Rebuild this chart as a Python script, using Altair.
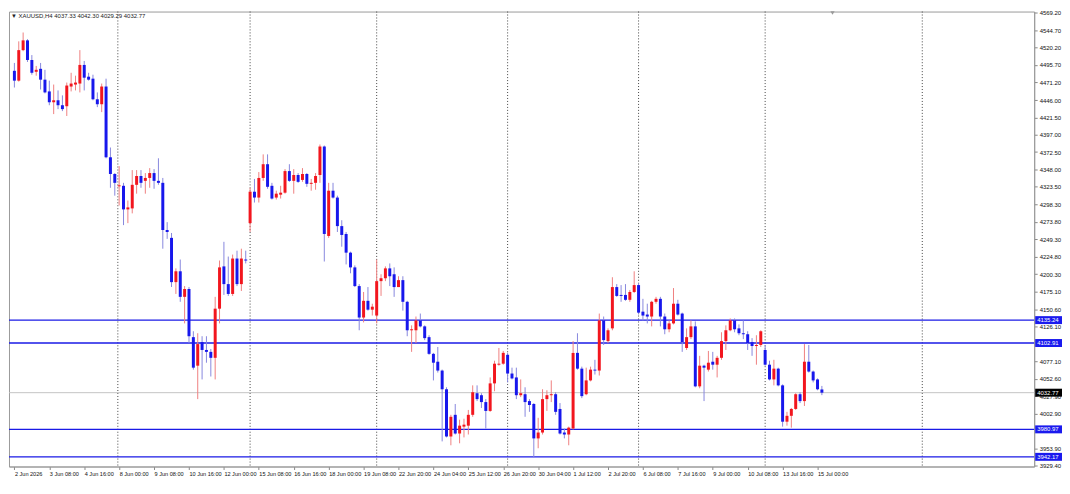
import json
import altair as alt
import pandas as pd

# ---------------- data (XAUUSD, H4) ----------------
opens = [4487.3, 4473.4, 4516.5, 4530.3, 4502.6, 4485.9, 4490.1, 4474.8, 4458.2, 4442.9,
         4445.7, 4438.7, 4437.3, 4465.1, 4467.9, 4469.3, 4495.6, 4479.0, 4476.2, 4447.1,
         4440.1, 4465.1, 4365.2, 4341.6, 4324.2, 4324.9, 4291.6, 4293.0, 4326.3, 4338.8,
         4331.9, 4336.0, 4342.9, 4331.9, 4329.1, 4262.5, 4251.4, 4188.9, 4204.2, 4168.1,
         4179.2, 4111.2, 4070.9, 4104.2, 4093.1, 4090.4, 4082.0, 4151.4, 4211.1, 4186.1,
         4172.2, 4222.2, 4186.1, 4220.8, 4272.2, 4316.6, 4308.3, 4336.0, 4355.4, 4324.9,
         4308.3, 4312.4, 4315.2, 4345.7, 4331.9, 4340.2, 4333.2, 4341.6, 4327.7, 4329.1,
         4340.2, 4380.4, 4254.1, 4318.0, 4308.3, 4268.0, 4256.9, 4230.5, 4209.7, 4183.3,
         4138.9, 4162.5, 4150.0, 4141.7, 4190.3, 4194.4, 4208.3, 4200.0, 4181.9, 4191.7,
         4161.1, 4120.9, 4120.9, 4134.8, 4126.4, 4111.2, 4087.6, 4076.5, 4064.0, 4037.6,
         3970.9, 4001.5, 3975.1, 3984.8, 3986.2, 4001.5, 4032.0, 4029.2, 4019.5, 4007.0,
         4045.9, 4072.3, 4073.7, 4086.2, 4059.8, 4054.3, 4029.2, 4030.6, 4020.9, 4016.8,
         3968.2, 3976.5, 4023.7, 4029.2, 4030.6, 4009.8, 3976.5, 3973.7, 3982.1, 4089.0,
         4066.7, 4030.6, 4050.1, 4065.3, 4064.0, 4134.8, 4105.6, 4123.6, 4181.9, 4170.8,
         4170.8, 4163.9, 4175.0, 4184.7, 4147.2, 4143.1, 4140.3, 4161.1, 4165.3, 4140.3,
         4122.3, 4130.6, 4158.4, 4144.5, 4095.9, 4111.2, 4126.4, 4041.7, 4070.9, 4065.3,
         4076.5, 4072.3, 4082.0, 4105.6, 4120.9, 4134.8, 4123.6, 4116.7, 4115.3, 4104.2,
         4098.7, 4100.1, 4093.1, 4072.3, 4051.5, 4066.7, 4043.1, 3991.8, 4000.1, 4009.8,
         4030.6, 4020.9, 4076.5, 4062.6, 4051.5, 4037.33]

highs = [4498.4, 4528.9, 4541.4, 4532.0, 4509.5, 4494.2, 4498.4, 4488.7, 4473.4, 4467.9,
         4459.6, 4452.6, 4470.7, 4484.5, 4480.4, 4516.5, 4501.2, 4484.5, 4481.8, 4456.8,
         4469.3, 4476.2, 4379.0, 4342.9, 4352.7, 4329.1, 4304.1, 4347.1, 4347.1, 4347.1,
         4342.9, 4349.9, 4348.5, 4363.8, 4336.0, 4273.6, 4258.3, 4208.3, 4220.8, 4183.3,
         4181.9, 4119.5, 4116.7, 4112.5, 4112.5, 4094.5, 4168.1, 4219.4, 4245.8, 4225.0,
         4227.8, 4233.3, 4236.1, 4233.3, 4322.1, 4334.6, 4344.3, 4369.3, 4369.3, 4329.1,
         4318.0, 4324.9, 4348.5, 4355.4, 4348.5, 4342.9, 4349.9, 4342.9, 4334.6, 4342.9,
         4383.2, 4381.8, 4329.1, 4329.1, 4311.0, 4276.3, 4259.7, 4231.9, 4212.5, 4186.1,
         4175.0, 4181.9, 4158.4, 4220.8, 4200.0, 4211.1, 4215.3, 4209.7, 4197.2, 4197.2,
         4162.5, 4127.8, 4140.3, 4144.5, 4127.8, 4113.9, 4089.0, 4097.3, 4065.4, 4040.4,
         4001.5, 4016.8, 3994.6, 3996.0, 4008.4, 4043.1, 4043.1, 4032.0, 4023.7, 4054.3,
         4077.9, 4095.9, 4091.7, 4089.0, 4068.1, 4068.1, 4051.5, 4040.4, 4023.7, 4018.1,
         3997.3, 4037.6, 4036.2, 4050.1, 4033.4, 4018.1, 3982.1, 3984.8, 4105.6, 4116.7,
         4069.5, 4068.1, 4069.5, 4079.2, 4144.5, 4140.3, 4123.6, 4195.8, 4186.1, 4184.7,
         4186.1, 4177.8, 4204.2, 4187.5, 4165.3, 4158.4, 4162.5, 4168.1, 4168.1, 4144.5,
         4134.8, 4180.5, 4163.9, 4145.8, 4123.6, 4134.8, 4133.4, 4084.8, 4072.3, 4091.7,
         4090.4, 4084.8, 4118.1, 4127.8, 4137.6, 4137.6, 4129.2, 4134.8, 4119.5, 4109.8,
         4113.9, 4120.9, 4100.1, 4077.9, 4079.2, 4068.1, 4044.5, 4005.7, 4011.2, 4032.0,
         4033.4, 4101.4, 4100.1, 4064.0, 4052.9, 4042.30]

lows = [4463.7, 4472.0, 4515.0, 4499.8, 4481.8, 4480.4, 4460.9, 4455.4, 4438.7, 4426.2,
        4433.2, 4430.4, 4423.5, 4458.2, 4459.6, 4456.8, 4459.6, 4473.4, 4445.7, 4436.0,
        4429.0, 4363.8, 4322.1, 4311.0, 4297.1, 4269.4, 4272.2, 4286.0, 4313.8, 4322.1,
        4313.8, 4322.1, 4320.7, 4326.3, 4236.1, 4250.0, 4182.0, 4172.2, 4161.1, 4130.6,
        4102.8, 4065.3, 4023.7, 4051.5, 4075.1, 4055.6, 4051.5, 4130.6, 4170.8, 4169.4,
        4169.4, 4183.3, 4176.4, 4215.3, 4259.7, 4301.3, 4301.3, 4331.9, 4320.7, 4305.5,
        4305.5, 4306.9, 4313.8, 4330.5, 4313.8, 4329.1, 4330.5, 4323.5, 4318.0, 4319.4,
        4329.1, 4218.0, 4251.4, 4306.9, 4259.7, 4238.9, 4213.9, 4201.4, 4181.9, 4120.9,
        4132.0, 4148.6, 4141.7, 4130.6, 4169.4, 4190.3, 4183.3, 4168.1, 4181.9, 4148.6,
        4112.5, 4090.4, 4102.8, 4125.0, 4107.0, 4086.2, 4050.1, 4061.2, 3964.0, 3969.6,
        3958.5, 3973.7, 3961.3, 3969.6, 3973.7, 3998.7, 4020.9, 4011.2, 3982.1, 4005.7,
        4034.8, 4070.9, 4072.3, 4047.3, 4051.5, 4023.7, 4026.5, 3998.7, 4005.7, 3941.8,
        3954.3, 3973.7, 4007.0, 4019.5, 4001.5, 3973.7, 3968.2, 3958.5, 3980.7, 4065.3,
        4025.1, 4029.2, 4048.7, 4058.4, 4057.0, 4100.1, 4102.8, 4120.9, 4168.1, 4161.1,
        4162.5, 4161.1, 4173.6, 4143.1, 4134.8, 4130.6, 4126.4, 4158.4, 4126.4, 4115.3,
        4118.1, 4129.2, 4141.7, 4090.4, 4093.1, 4108.4, 4040.4, 4039.0, 4020.9, 4062.6,
        4065.3, 4054.3, 4079.2, 4093.1, 4119.5, 4118.1, 4113.9, 4108.4, 4093.1, 4084.8,
        4072.3, 4097.3, 4070.9, 4050.1, 4043.1, 4041.7, 3984.8, 3986.2, 3983.4, 4008.4,
        4018.1, 4014.0, 4061.2, 4047.3, 4036.2, 4029.29]

closes = [4473.4, 4516.5, 4530.3, 4502.6, 4484.5, 4488.7, 4474.8, 4456.8, 4442.9, 4445.7,
          4438.7, 4433.2, 4466.5, 4469.3, 4470.7, 4495.6, 4477.6, 4474.8, 4447.1, 4440.1,
          4465.1, 4365.2, 4341.6, 4329.1, 4325.6, 4291.6, 4294.4, 4326.3, 4338.8, 4329.1,
          4336.0, 4342.9, 4331.9, 4329.1, 4262.5, 4259.7, 4188.9, 4204.2, 4168.1, 4179.2,
          4112.5, 4068.1, 4101.4, 4093.1, 4090.4, 4082.0, 4151.4, 4209.7, 4186.1, 4172.2,
          4222.2, 4186.1, 4222.2, 4219.4, 4316.6, 4308.3, 4336.0, 4355.4, 4323.5, 4306.9,
          4313.8, 4315.2, 4345.7, 4331.9, 4340.2, 4330.5, 4341.6, 4327.7, 4329.1, 4338.8,
          4380.4, 4256.9, 4318.0, 4308.3, 4268.0, 4255.5, 4230.5, 4209.7, 4183.3, 4138.9,
          4162.5, 4150.0, 4154.2, 4190.3, 4194.4, 4208.3, 4197.2, 4181.9, 4191.7, 4161.1,
          4120.9, 4122.3, 4134.8, 4126.4, 4109.8, 4087.6, 4075.1, 4064.0, 4037.6, 3970.9,
          3998.7, 3975.1, 3986.2, 3987.6, 4001.5, 4033.4, 4023.7, 4019.5, 4007.0, 4045.9,
          4073.7, 4073.7, 4089.0, 4059.8, 4052.9, 4029.2, 4032.0, 4019.5, 4015.4, 3968.2,
          3976.5, 4023.7, 4029.2, 4030.6, 4005.7, 3975.1, 3973.7, 3983.4, 4088.9, 4066.7,
          4027.9, 4050.1, 4065.3, 4064.0, 4134.8, 4107.0, 4120.9, 4181.9, 4169.4, 4169.4,
          4163.9, 4175.0, 4184.7, 4145.8, 4141.7, 4140.3, 4161.1, 4165.3, 4140.3, 4122.3,
          4130.6, 4158.4, 4143.1, 4104.2, 4111.2, 4126.4, 4041.7, 4070.9, 4068.1, 4075.1,
          4072.3, 4082.0, 4105.6, 4120.9, 4134.8, 4122.3, 4116.7, 4115.3, 4102.8, 4098.7,
          4100.1, 4119.5, 4072.3, 4051.5, 4066.7, 4043.1, 3991.8, 4000.1, 4009.8, 4030.6,
          4020.9, 4076.5, 4062.6, 4050.1, 4037.6, 4032.77]

time_labels = ["2 Jun 2026", "3 Jun 08:00", "4 Jun 16:00", "8 Jun 00:00", "9 Jun 08:00",
               "10 Jun 16:00", "12 Jun 00:00", "15 Jun 08:00", "16 Jun 16:00", "18 Jun 00:00",
               "19 Jun 08:00", "22 Jun 20:00", "24 Jun 04:00", "25 Jun 12:00", "26 Jun 20:00",
               "30 Jun 04:00", "1 Jul 12:00", "2 Jul 20:00", "6 Jul 08:00", "7 Jul 16:00",
               "9 Jul 00:00", "10 Jul 08:00", "13 Jul 16:00", "15 Jul 00:00"]
label_every = 8  # one time label every 8 bars

# price scale labels (the ones hidden behind the level boxes are left out)
price_ticks = [4569.20, 4544.70, 4520.20, 4495.70, 4471.20, 4446.00, 4421.50, 4397.00,
               4372.50, 4348.00, 4323.50, 4298.30, 4273.80, 4249.30, 4224.80, 4200.30,
               4175.10, 4150.60, 4126.10, 4077.10, 4052.60, 4027.90, 4002.90,
               3953.90, 3929.40]

levels = [4135.24, 4102.91, 3980.97, 3942.17]      # horizontal lines (blue)
bid = 4032.77                                      # current price line
separators = [23.7, 54, 83, 113, 143, 172, 208]    # dotted vertical lines (bar index)

# ---------------- chart ----------------
W, H = 1032, 458
RED, BLUE = "#f2161e", "#1717ec"
RED_W, BLUE_W = "#ef8080", "#8787de"
FONT = "Liberation Sans"

n = len(opens)
df = pd.DataFrame({"i": list(range(n)), "open": opens, "high": highs,
                   "low": lows, "close": closes})

xscale = alt.Scale(domain=[-0.1, 232.5], nice=False, zero=False)
yscale = alt.Scale(domain=[3928.5, 4571.0], nice=False, zero=False)

tick_idx = [k * label_every for k in range(len(time_labels))]
label_expr = json.dumps(time_labels) + "[round(datum.value / %d)]" % label_every

xaxis = alt.Axis(values=tick_idx, labelExpr=label_expr, labelAlign="left",
                 labelFont=FONT, labelFontSize=5.6, labelColor="#111",
                 tickSize=3, tickColor="#888", domainColor="#9a9a9a",
                 labelPadding=2, grid=False, title=None, labelOverlap=False,
                 labelFlush=False)
yaxis = alt.Axis(orient="right", values=price_ticks,
                 labelExpr="format(datum.value, '.2f')",
                 labelFont=FONT, labelFontSize=6, labelColor="#111",
                 tickSize=3, tickColor="#888", domainColor="#9a9a9a",
                 labelPadding=2, grid=False, title=None, labelOverlap=False,
                 labelFlush=False)

base = alt.Chart(df)
is_up = "datum.close >= datum.open"

wicks = base.mark_rule(strokeWidth=1).encode(
    x=alt.X("i:Q", scale=xscale, axis=xaxis),
    y=alt.Y("low:Q", scale=yscale, axis=yaxis),
    y2="high:Q",
    color=alt.condition(is_up, alt.value(RED_W), alt.value(BLUE_W)),
)
bodies = base.mark_bar(size=3, minBandSize=1).encode(
    x=alt.X("i:Q", scale=xscale, axis=xaxis),
    y=alt.Y("open:Q", scale=yscale, axis=yaxis),
    y2="close:Q",
    color=alt.condition(is_up, alt.value(RED), alt.value(BLUE)),
)

sep = alt.Chart(pd.DataFrame({"i": separators})).mark_rule(
    color="#444", strokeDash=[1, 2], strokeWidth=1).encode(
    x=alt.X("i:Q", scale=xscale, axis=xaxis))

lev_df = pd.DataFrame({"p": levels, "txt": ["%.2f" % v for v in levels]})
lev_lines = alt.Chart(lev_df).mark_rule(color="#1a1ae6", strokeWidth=1.4).encode(
    y=alt.Y("p:Q", scale=yscale, axis=yaxis))

bid_df = pd.DataFrame({"p": [bid], "txt": ["%.2f" % bid]})
bid_line = alt.Chart(bid_df).mark_rule(color="#c4c4c4", strokeWidth=1).encode(
    y=alt.Y("p:Q", scale=yscale, axis=yaxis))

lev_box = alt.Chart(lev_df).mark_tick(color="#1a1aee", thickness=8, size=27, opacity=1).encode(
    y=alt.Y("p:Q", scale=yscale, axis=yaxis), x=alt.value(W + 14.5))
bid_box = alt.Chart(bid_df).mark_tick(color="#000000", thickness=8, size=27, opacity=1).encode(
    y=alt.Y("p:Q", scale=yscale, axis=yaxis), x=alt.value(W + 14.5))
lev_txt = alt.Chart(lev_df).mark_text(align="left", baseline="middle", font=FONT,
                                      fontSize=6, color="white").encode(
    y=alt.Y("p:Q", scale=yscale, axis=yaxis), x=alt.value(W + 3), text="txt:N")
bid_txt = alt.Chart(bid_df).mark_text(align="left", baseline="middle", font=FONT,
                                      fontSize=6, color="white").encode(
    y=alt.Y("p:Q", scale=yscale, axis=yaxis), x=alt.value(W + 3), text="txt:N")

title_txt = "\u25bc XAUUSD,H4  %.2f %.2f %.2f %.2f" % (opens[-1], highs[-1], lows[-1], closes[-1])
title = alt.Chart(pd.DataFrame({"t": [title_txt]})).mark_text(
    align="left", baseline="top", font=FONT, fontSize=6, color="#222").encode(
    x=alt.value(2), y=alt.value(2), text="t:N")

shift_marker = alt.Chart(pd.DataFrame({"s": [1]})).mark_point(
    shape="triangle-down", filled=True, color="#9a9a9a", size=18, opacity=1).encode(
    x=alt.value(829), y=alt.value(1.5))

chart = alt.layer(
    sep, bid_line, lev_lines, wicks, bodies, lev_box, bid_box, lev_txt, bid_txt,
    title, shift_marker
).properties(
    width=W, height=H, padding=0, background="white"
).configure_axis(
    labelOverlap=False
).configure_view(
    stroke="#9a9a9a", strokeWidth=1
)

chart.save("out.html", embed_options={"renderer": "svg", "actions": False})
